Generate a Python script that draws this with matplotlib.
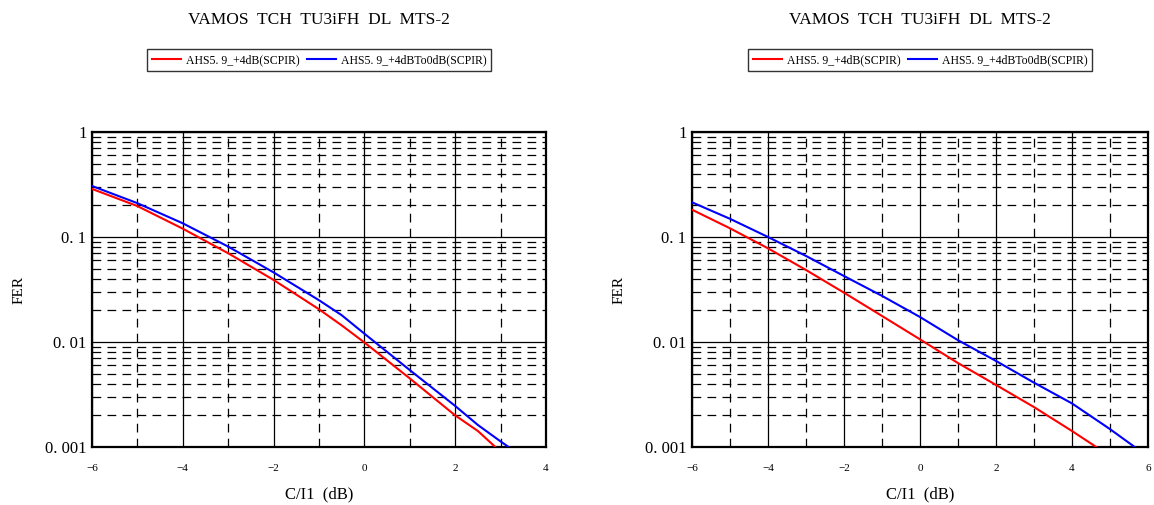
import matplotlib
matplotlib.use("Agg")
import matplotlib.pyplot as plt
from matplotlib.ticker import FixedLocator, LogLocator, NullFormatter

plt.rcParams['font.family'] = ['Liberation Serif', 'DejaVu Serif']

title = "VAMOS  TCH  TU3iFH  DL  MTS-2"
label_red = "AHS5. 9_+4dB(SCPIR)"
label_blue = "AHS5. 9_+4dBTo0dB(SCPIR)"
xlabel = "C/I1  (dB)"
ylabel = "FER"
ytick_vals = [0.001, 0.01, 0.1, 1]
ytick_labels = ["0. 001", "0. 01", "0. 1", "1"]

# Left panel
left_x_red = [-6, -5, -4, -3, -2, -1, -0.5, 0, 1, 2, 2.5, 3]
left_y_red = [0.287, 0.197, 0.120, 0.070, 0.039, 0.0205, 0.0144, 0.0099, 0.0045, 0.0020, 0.00142, 0.0009]
left_x_blue = [-6, -5, -4, -3, -2, -1, -0.5, 0, 1, 2, 2.5, 3, 3.5]
left_y_blue = [0.306, 0.210, 0.135, 0.081, 0.046, 0.025, 0.018, 0.012, 0.0054, 0.00246, 0.00162, 0.00113, 0.0008]
left_xticks = [-6, -4, -2, 0, 2, 4]

# Right panel
right_x_red = [-6, -5, -4, -3, -2, -1, 0, 1, 2, 3, 4, 5]
right_y_red = [0.182, 0.121, 0.078, 0.0485, 0.0295, 0.0177, 0.0106, 0.0063, 0.0039, 0.0024, 0.00142, 0.00082]
right_x_blue = [-6, -5, -4, -3, -2, -1, 0, 1, 2, 3, 4, 5, 6]
right_y_blue = [0.214, 0.149, 0.100, 0.066, 0.0425, 0.0275, 0.0173, 0.0104, 0.0066, 0.0041, 0.0026, 0.00148, 0.00081]
right_xticks = [-6, -4, -2, 0, 2, 4, 6]

W, H = 1154, 505
fig = plt.figure(figsize=(W / 100, H / 100), dpi=100)

panels = [
    (92, 546, left_x_red, left_y_red, left_x_blue, left_y_blue, left_xticks),
    (692, 1148, right_x_red, right_y_red, right_x_blue, right_y_blue, right_xticks),
]

for (x0, x1, xr, yr, xb, yb, xt) in panels:
    ax = fig.add_axes([x0 / W, (H - 447) / H, (x1 - x0) / W, 315 / H])
    ax.set_yscale('log')
    ax.set_xlim(xt[0], xt[-1])
    ax.set_ylim(0.001, 1)
    lr, = ax.plot(xr, yr, color='#ff0000', lw=1.5, label=label_red, zorder=3)
    lb, = ax.plot(xb, yb, color='#0000ff', lw=1.5, label=label_blue, zorder=3)

    ax.xaxis.set_major_locator(FixedLocator(xt))
    ax.xaxis.set_minor_locator(FixedLocator([v + 1 for v in xt[:-1]]))
    ax.yaxis.set_major_locator(FixedLocator(ytick_vals))
    ax.set_yticklabels(ytick_labels, fontsize=12)
    ax.yaxis.set_minor_locator(LogLocator(base=10, subs=range(2, 10)))
    ax.yaxis.set_minor_formatter(NullFormatter())
    ax.set_xticklabels([f"{v}".replace('-', '\u2212') for v in xt], fontsize=8)

    ax.grid(True, which='major', color='black', lw=0.9, ls='-')
    ax.grid(True, which='minor', color='black', lw=0.9, ls=(0, (7, 5)))
    ax.tick_params(which='both', length=0)
    ax.tick_params(axis='x', pad=12)
    ax.tick_params(axis='y', pad=4)
    for s in ax.spines.values():
        s.set_linewidth(1.6)
        s.set_color('black')

    ax.set_xlabel(xlabel, fontsize=12, labelpad=10)
    ax.set_ylabel(ylabel, fontsize=11, labelpad=14)

    cx = (x0 + x1) / 2 / W
    fig.text(cx, 1 - 20 / H, title, ha='center', va='center', fontsize=12.5)
    leg = fig.legend(handles=[lr, lb], loc='center', bbox_to_anchor=(cx, 1 - 60 / H),
                     ncol=2, fontsize=8.5, frameon=True, fancybox=False, edgecolor='black',
                     handlelength=2.5, handletextpad=0.4, columnspacing=0.6,
                     borderpad=0.4)
    leg.get_frame().set_linewidth(1.0)

fig.savefig("out.png", dpi=100)
